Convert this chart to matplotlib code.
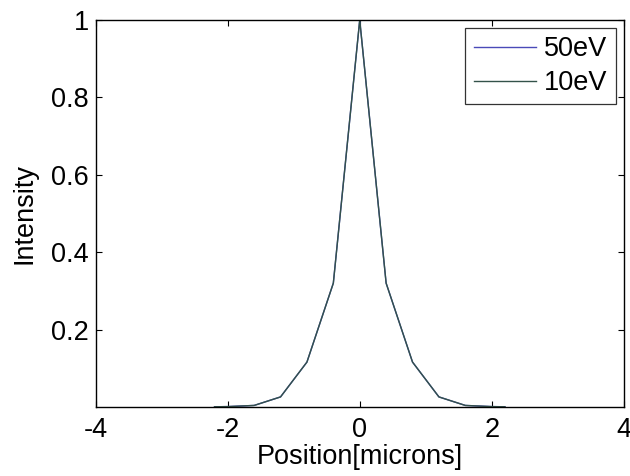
import matplotlib
matplotlib.use("Agg")
import matplotlib.pyplot as plt

# beam profile samples (position in microns, normalised intensity)
position = [-2.2, -2.0, -1.6, -1.2, -0.8, -0.4, 0.0, 0.4, 0.8, 1.2, 1.6, 2.0, 2.2]
intensity_50ev = [0.0005, 0.001, 0.004, 0.026, 0.116, 0.32, 1.0, 0.32, 0.116, 0.026, 0.004, 0.001, 0.0005]
intensity_10ev = [0.0005, 0.001, 0.004, 0.026, 0.116, 0.32, 1.0, 0.32, 0.116, 0.026, 0.004, 0.001, 0.0005]

xticks = [-4, -2, 0, 2, 4]
yticks = [0.2, 0.4, 0.6, 0.8, 1.0]
ytick_labels = ["0.2", "0.4", "0.6", "0.8", "1"]

plt.rcParams['font.family'] = ['Liberation Sans', 'DejaVu Sans']
FS = 19.5

fig = plt.figure(figsize=(6.3, 4.76), dpi=100)
ax = fig.add_axes([0.152, 0.145, 0.838, 0.813])

ax.plot(position, intensity_50ev, color='#4a4ab8', linewidth=1.0, label='50eV')
ax.plot(position, intensity_10ev, color='#33524a', linewidth=1.0, label='10eV')

ax.set_xlim(-4, 4)
ax.set_ylim(0, 1)
ax.set_xticks(xticks)
ax.set_xticklabels([str(t) for t in xticks])
ax.set_yticks(yticks)
ax.set_yticklabels(ytick_labels)
ax.tick_params(direction='in', length=4, width=0.8, labelsize=FS,
               top=True, right=True)
ax.tick_params(axis='x', pad=7)
ax.tick_params(axis='y', pad=5)
for s in ax.spines.values():
    s.set_linewidth(1.0)

ax.set_xlabel('Position[microns]', fontsize=FS, labelpad=1)
ax.set_ylabel('Intensity', fontsize=FS, labelpad=10)

leg = ax.legend(loc='upper right', fontsize=FS, frameon=True, fancybox=False,
                edgecolor='black', handlelength=2.3, handletextpad=0.3,
                borderpad=0.3, labelspacing=0.3, borderaxespad=0.3)
leg.get_frame().set_linewidth(0.9)

fig.savefig('out.png', dpi=100)
